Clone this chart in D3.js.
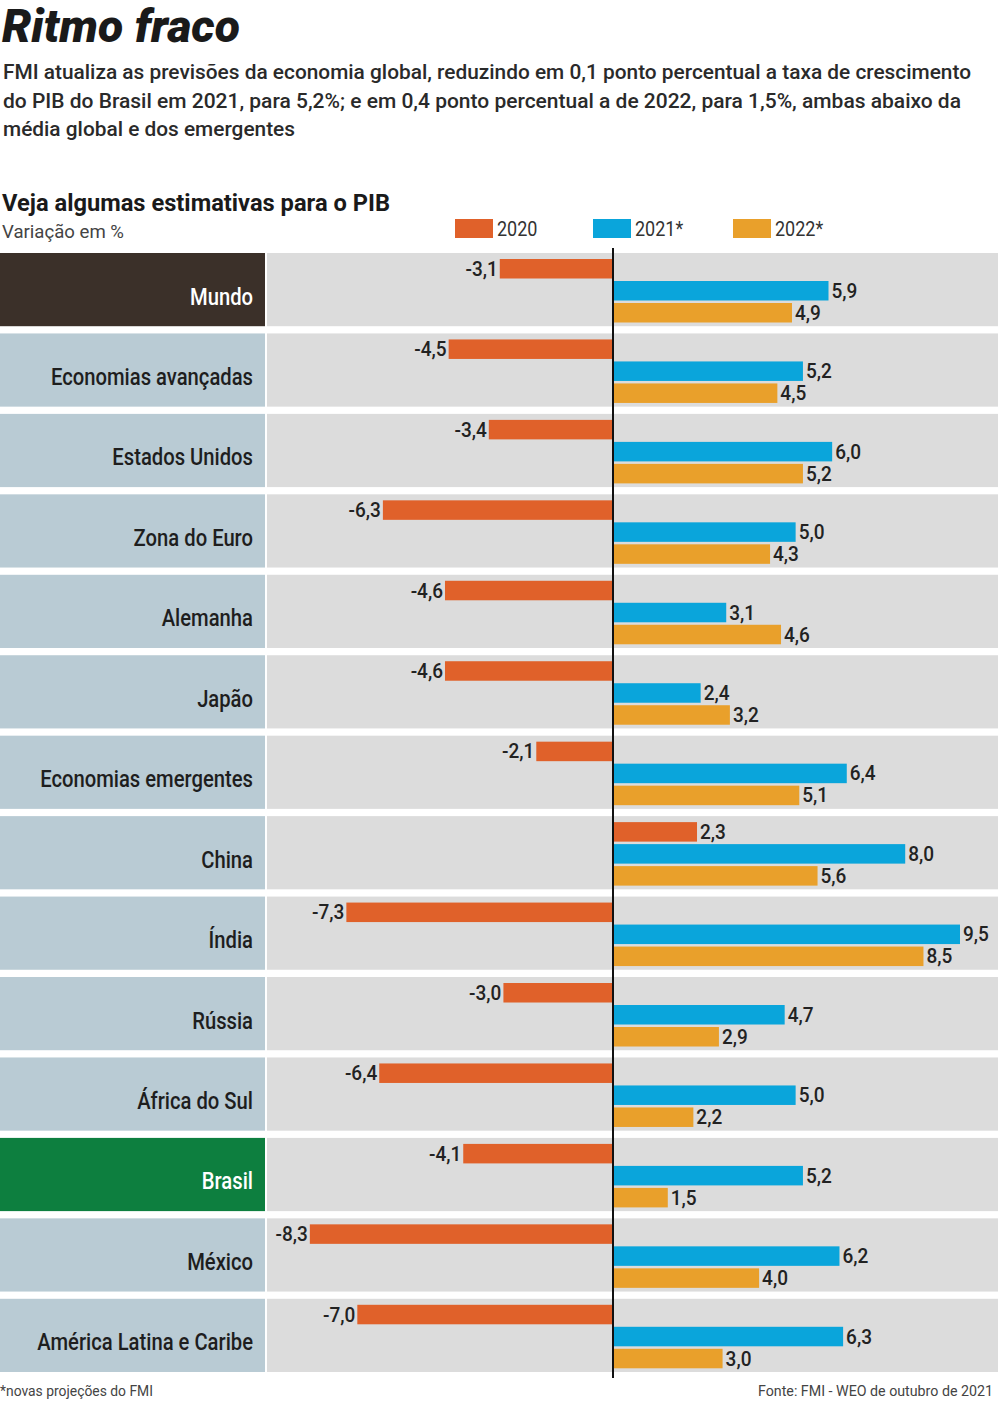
<!DOCTYPE html>
<html><head><meta charset="utf-8">
<script src="https://cdn.jsdelivr.net/npm/d3@7"></script>
<style>
body{margin:0;background:#fff;}
svg text{font-family:Roboto,"Noto Sans",sans-serif;}
</style></head>
<body><svg id="c" width="1000" height="1404"></svg>
<script>
const categories = ["Mundo","Economias avançadas","Estados Unidos","Zona do Euro","Alemanha","Japão","Economias emergentes","China","Índia","Rússia","África do Sul","Brasil","México","América Latina e Caribe"];
const v2020 = [-3.1,-4.5,-3.4,-6.3,-4.6,-4.6,-2.1,2.3,-7.3,-3.0,-6.4,-4.1,-8.3,-7.0];
const v2021 = [5.9,5.2,6.0,5.0,3.1,2.4,6.4,8.0,9.5,4.7,5.0,5.2,6.2,6.3];
const v2022 = [4.9,4.5,5.2,4.3,4.6,3.2,5.1,5.6,8.5,2.9,2.2,1.5,4.0,3.0];
const seriesNames = ["2020","2021*","2022*"];
const seriesColors = ["#e0612a","#0aa5db","#e9a02b"];
const series = [v2020,v2021,v2022];

const svg = d3.select("#c");
const fmt = v => d3.format(".1f")(v).replace(".",",").replace("−","-");
function squeeze(sel, f){ sel.each(function(){ const w=this.getComputedTextLength(); d3.select(this).attr("textLength",w*f).attr("lengthAdjust","spacingAndGlyphs"); }); }

// header
svg.append("text").attr("x",2).attr("y",42).attr("font-size",46).attr("font-weight",900).attr("font-style","italic")
  .attr("textLength",238).attr("lengthAdjust","spacingAndGlyphs").attr("fill","#1a1a1a").text("Ritmo fraco");
const sub = ["FMI atualiza as previsões da economia global, reduzindo em 0,1 ponto percentual a taxa de crescimento",
 "do PIB do Brasil em 2021, para 5,2%; e em 0,4 ponto percentual a de 2022, para 1,5%, ambas abaixo da",
 "média global e dos emergentes"];
const subW = [968, 958, 292];
sub.forEach((s,i)=>svg.append("text").attr("x",3).attr("y",79+i*28.5).attr("font-size",21).attr("font-weight",500).attr("fill","#2a2a2a")
  .attr("textLength",subW[i]).attr("lengthAdjust","spacingAndGlyphs").text(s));
svg.append("text").attr("x",2).attr("y",211).attr("font-size",23).attr("font-weight",700).attr("fill","#1a1a1a")
  .attr("textLength",388).attr("lengthAdjust","spacingAndGlyphs").text("Veja algumas estimativas para o PIB");
svg.append("text").attr("x",2).attr("y",238).attr("font-size",19).attr("fill","#444")
  .attr("textLength",122).attr("lengthAdjust","spacingAndGlyphs").text("Variação em %");

// legend
const legX = [455,593,733];
const legG = svg.append("g");
seriesNames.forEach((n,i)=>{
  legG.append("rect").attr("x",legX[i]).attr("y",219).attr("width",38).attr("height",19).attr("fill",seriesColors[i]);
  legG.append("text").attr("x",legX[i]+42).attr("y",236).attr("font-size",20).attr("fill","#333").text(n);
});
squeeze(legG.selectAll("text"),0.9);

// scales
const x = d3.scaleLinear().domain([0,9.5]).range([613,960]);
const y = d3.scaleBand().domain(categories).range([253,1372]).paddingInner(0.09).paddingOuter(0.0);
const rowH = y.bandwidth();

const rows = svg.append("g").selectAll("g").data(categories).join("g").attr("transform",d=>`translate(0,${y(d)})`);
rows.append("rect").attr("x",0).attr("width",265).attr("height",rowH)
  .attr("fill",d=>d==="Mundo"?"#3b3029":d==="Brasil"?"#0d7f3f":"#b9cbd4");
rows.append("rect").attr("x",267).attr("width",731).attr("height",rowH).attr("fill","#dcdcdc");
const catText = rows.append("text").attr("x",253).attr("y",rowH/2+15).attr("text-anchor","end").attr("font-size",23).attr("font-weight",500)
  .attr("fill",d=>d==="Mundo"||d==="Brasil"?"#fff":"#1e1e1e").text(d=>d);
let refW = 0; catText.each(function(d){ if(d==="Economias avançadas") refW=this.getComputedTextLength(); });
squeeze(catText, 202/refW);

const barH = 19.5, barStep = 22, barOff = 6;
series.forEach((vals,si)=>{
  const g = svg.append("g");
  g.selectAll("rect").data(vals).join("rect")
    .attr("x",v=>x(Math.min(0,v))).attr("width",v=>Math.abs(x(v)-x(0)))
    .attr("y",(v,i)=>y(categories[i])+barOff+si*barStep).attr("height",barH).attr("fill",seriesColors[si]);
  const t = g.selectAll("text").data(vals).join("text")
    .attr("x",v=>v<0?x(v)-2:x(v)+3).attr("text-anchor",v=>v<0?"end":"start")
    .attr("y",(v,i)=>y(categories[i])+barOff+si*barStep+barH/2+7).attr("font-size",20).attr("font-weight",500).attr("fill","#222")
    .text(v=>fmt(v));
  squeeze(t,0.95);
});

// zero line
svg.append("line").attr("x1",x(0)).attr("x2",x(0)).attr("y1",248).attr("y2",1378).attr("stroke","#111").attr("stroke-width",2);

// footer
svg.append("text").attr("x",0).attr("y",1396).attr("font-size",14).attr("fill","#444")
  .attr("textLength",153).attr("lengthAdjust","spacingAndGlyphs").text("*novas projeções do FMI");
svg.append("text").attr("x",993).attr("y",1396).attr("font-size",14).attr("text-anchor","end").attr("fill","#444")
  .attr("textLength",235).attr("lengthAdjust","spacingAndGlyphs").text("Fonte: FMI - WEO de outubro de 2021");
</script></body></html>
